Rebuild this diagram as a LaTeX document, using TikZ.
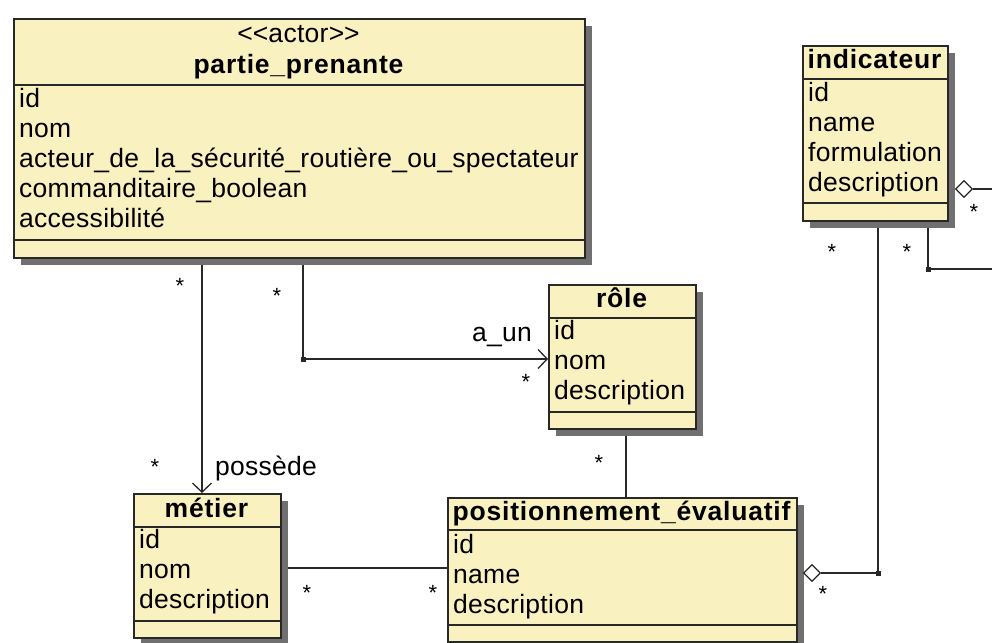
\documentclass[tikz,border=0pt]{standalone}
\usepackage{fontspec}
\setmainfont{Liberation Sans}[LetterSpace=1]
\usetikzlibrary{arrows.meta,shadows,calc,shapes.geometric}
\definecolor{classfill}{RGB}{250,241,192}
\definecolor{shadowgray}{RGB}{112,112,112}
\definecolor{linecol}{RGB}{40,40,40}
\pgfdeclarelayer{bg}
\pgfdeclarelayer{background}
\pgfsetlayers{bg,background,main}
\newcommand\mstar[3]{\node[mult] (#1) at (#2,#3+12.6) {*};}
\newcommand\sepln[2]{\draw[sepline] ([yshift=-#2pt]#1.north west) -- ([yshift=-#2pt]#1.north east);}
\begin{document}
\begin{tikzpicture}[x=1pt,y=-1pt,
  classbox/.style={draw=linecol, line width=1.8pt, fill=classfill, anchor=north west, inner sep=0pt,
    general shadow={fill=shadowgray, shadow xshift=7pt, shadow yshift=-7pt}},
  sepline/.style={draw=linecol, line width=1.5pt},
  attr/.style={anchor=base west, inner sep=0pt, font=\fontsize{26.5}{30}\selectfont, text=black},
  ctitle/.style={anchor=base, inner sep=0pt, font=\fontsize{26.5}{30}\selectfont\bfseries\addfontfeatures{LetterSpace=3}, text=black},
  stereo/.style={anchor=base, inner sep=0pt, font=\fontsize{26.5}{30}\selectfont, text=black},
  conn/.style={draw=linecol, line width=1.5pt},
  openarrow/.style={-{Straight Barb[length=9pt,width=19pt,line width=1.3pt]}},
  mult/.style={anchor=base, inner sep=0pt, font=\fontsize{22}{22}\selectfont, text=black},
  aggdiamond/.style={diamond, draw=linecol, fill=white, line width=1.3pt, inner sep=0pt, minimum width=17pt, minimum height=17pt},
  junction/.style={fill=linecol, inner sep=0pt, minimum size=5pt, rectangle},
  lbl/.style={anchor=base west, inner sep=0pt, font=\fontsize{26.5}{30}\selectfont, text=black}
]
\begin{pgfonlayer}{bg}
\fill[white] (0,0) rectangle (992,642);
\end{pgfonlayer}
\useasboundingbox (0,0) rectangle (992,642);

% ---------- classes ----------
\node[classbox, minimum width=571pt, minimum height=239pt] (pp) at (13,18) {};
\sepln{pp}{67}\sepln{pp}{222}
\node[stereo] (ppst) at (298.5,42) {<\kern0pt<actor>\kern0pt>};
\node[ctitle] (ppt) at (298.5,74) {partie\_prenante};
\node[attr] (pp1) at (19,107) {id};
\node[attr] (pp2) at (19,137) {nom};
\node[attr] (pp3) at (19,167) {acteur\_de\_la\_sécurité\_routière\_ou\_spectateur};
\node[attr] (pp4) at (19,197) {commanditaire\_boolean};
\node[attr] (pp5) at (19,227) {accessibilité};

\node[classbox, minimum width=145pt, minimum height=175pt] (ind) at (802,45) {};
\sepln{ind}{34}\sepln{ind}{158}
\node[ctitle] (indt) at (874.5,68) {indicateur};
\node[attr] (ind1) at (808,101) {id};
\node[attr] (ind2) at (808,131) {name};
\node[attr] (ind3) at (808,161) {formulation};
\node[attr] (ind4) at (808,191) {description};

\node[classbox, minimum width=147pt, minimum height=144pt] (role) at (548,284) {};
\sepln{role}{34}\sepln{role}{128}
\node[ctitle] (rolet) at (621.5,307) {rôle};
\node[attr] (role1) at (554,339) {id};
\node[attr] (role2) at (554,369) {nom};
\node[attr] (role3) at (554,399) {description};

\node[classbox, minimum width=147pt, minimum height=144pt] (met) at (133,493) {};
\sepln{met}{34}\sepln{met}{128}
\node[ctitle] (mett) at (206.5,517) {métier};
\node[attr] (met1) at (139,548) {id};
\node[attr] (met2) at (139,578) {nom};
\node[attr] (met3) at (139,608) {description};

\node[classbox, minimum width=349pt, minimum height=144pt] (pos) at (447,497) {};
\sepln{pos}{33}\sepln{pos}{128}
\node[ctitle] (post) at (621.5,520) {positionnement\_évaluatif};
\node[attr] (pos1) at (453,553) {id};
\node[attr] (pos2) at (453,583) {name};
\node[attr] (pos3) at (453,613) {description};

% ---------- connectors ----------
\coordinate (j1) at (303,359);
\coordinate (c2) at (202,0);
\coordinate (c3) at (626,0);
\coordinate (c4) at (0,568);
\coordinate (j2) at (878,573);
\coordinate (j3) at (928,269);
\coordinate (e1) at (992,189);
\coordinate (e2) at (992,269);
\node[aggdiamond] (d1) at (812,573) {};
\node[aggdiamond] (d2) at (964,189) {};

\begin{pgfonlayer}{background}
\draw[conn] (j1 |- pp.south) -- (j1);
\draw[conn, openarrow] (j1) -- (j1 -| role.west);
\draw[conn, openarrow] (c2 |- pp.south) -- (c2 |- met.north);
\draw[conn] (c3 |- role.south) -- (c3 |- pos.north);
\draw[conn] (c4 -| met.east) -- (c4 -| pos.west);
\draw[conn] (j2 |- ind.south) -- (j2) -- (d1.east);
\draw[conn] (d2.east) -- (e1);
\draw[conn] (j3 |- ind.south) -- (j3) -- (e2);
\end{pgfonlayer}
\node[junction] (j1d) at (j1) {};
\node[junction] (j2d) at (j2) {};
\node[junction] (j3d) at (j3) {};

% ---------- labels ----------
\node[lbl] (la) at (472,341) {a\_un};
\node[lbl] (lb) at (215,475) {possède};

% ---------- multiplicities ----------
\mstar{s1}{180}{281}
\mstar{s2}{277}{291}
\mstar{s3}{526}{377}
\mstar{s4}{155}{462}
\mstar{s5}{599}{458}
\mstar{s6}{307}{588}
\mstar{s7}{433}{588}
\mstar{s8}{823}{589}
\mstar{s9}{832}{247}
\mstar{s10}{907}{247}
\mstar{s11}{974}{207}
\end{tikzpicture}
\end{document}
